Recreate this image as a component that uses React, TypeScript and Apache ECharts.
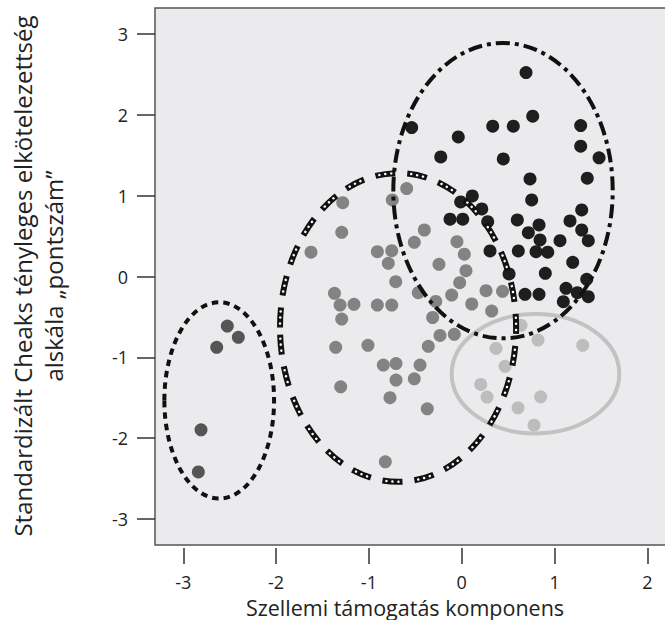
import React, { useEffect, useRef } from "react";
import * as echarts from "echarts";

// Cluster 1: black points (upper right)
const blackPoints: number[][] = [
  [0.693, 2.522], [0.765, 1.983], [-0.539, 1.842], [0.334, 1.859], [0.556, 1.859],
  [1.282, 1.866], [-0.037, 1.726], [1.282, 1.611], [-0.226, 1.479], [0.448, 1.454],
  [1.48, 1.467], [0.736, 1.207], [1.353, 1.215], [0.754, 0.947], [0.114, 0.996],
  [-0.011, 0.922], [0.216, 0.835], [1.293, 0.823], [-0.126, 0.708], [0.011, 0.708],
  [0.28, 0.678], [0.599, 0.699], [0.833, 0.637], [1.167, 0.687], [0.718, 0.542],
  [1.293, 0.575], [0.844, 0.452], [1.059, 0.443], [1.364, 0.443], [0.305, 0.316],
  [0.61, 0.316], [0.801, 0.307], [0.927, 0.3], [1.196, 0.176], [0.51, 0.031],
  [0.901, 0.04], [1.347, -0.035], [1.124, -0.146], [1.246, -0.2], [1.364, -0.25],
  [1.095, -0.312], [0.682, -0.22], [0.833, -0.22]
];

// Cluster 2: medium gray points (middle)
const grayPoints: number[][] = [
  [-1.282, 0.913], [-0.748, 0.947], [-0.593, 1.087], [-1.293, 0.547], [-1.624, 0.3],
  [-0.909, 0.307], [-0.754, 0.319], [-0.791, 0.163], [-0.403, 0.575], [-0.511, 0.423],
  [-0.051, 0.431], [0.028, 0.276], [-0.245, 0.151], [0.046, 0.072], [-0.711, -0.064],
  [-0.022, -0.077], [0.262, -0.176], [0.44, -0.183], [-0.468, -0.2], [-0.108, -0.229],
  [-0.28, -0.309], [0.108, -0.34], [0.323, -0.427], [-0.313, -0.507], [-1.371, -0.208],
  [-1.311, -0.353], [-1.161, -0.344], [-0.909, -0.353], [-0.754, -0.353], [-1.293, -0.526],
  [-1.358, -0.876], [-1.01, -0.851], [-0.234, -0.728], [-0.08, -0.715], [-0.36, -0.864],
  [-0.845, -1.095], [-0.708, -1.077], [-0.449, -1.095], [-0.708, -1.281], [-0.511, -1.265],
  [-1.304, -1.364], [-0.773, -1.498], [-0.371, -1.636], [-0.823, -2.292]
];

// Cluster 3: light gray points (lower right)
const lightPoints: number[][] = [
  [0.639, -0.604], [0.822, -0.786], [1.304, -0.851], [0.37, -0.889], [0.467, -1.111],
  [0.205, -1.334], [0.273, -1.491], [0.851, -1.488], [0.607, -1.624], [0.779, -1.838]
];

// Cluster 4: dark gray points (left)
const darkPoints: number[][] = [
  [-2.526, -0.613], [-2.407, -0.752], [-2.64, -0.876], [-2.809, -1.896], [-2.838, -2.416]
];

// Ellipses: [centerX, centerY, radiusX, radiusY]
const ellipseBlack = [[0.445, 1.061, 1.182, 1.826]];
const ellipseMid = [[-0.686, -0.63, 1.272, 1.908]];
const ellipseLeft = [[-2.613, -1.532, 0.591, 1.213]];
const ellipseLight = [[0.795, -1.203, 0.903, 0.738]];

const xTicks = [-3, -2, -1, 0, 1, 2];
const yTicks = [-3, -2, -1, 0, 1, 2, 3];

const xName = "Szellemi támogatás komponens";
const yName1 = "Standardizált Cheaks tényleges elkötelezettség";
const yName2 = "alskála „pontszám”";

const FONT = "'Open Sans', 'Noto Sans', sans-serif";

function ellipseSeries(data: number[][], layers: any[], z: number) {
  return {
    type: "custom",
    data,
    z,
    silent: true,
    clip: false,
    renderItem: (_p: any, api: any) => {
      const c = api.coord([api.value(0), api.value(1)]);
      const s = api.size([api.value(2), api.value(3)]);
      return {
        type: "group",
        children: layers.map((st) => ({
          type: "ellipse",
          shape: { cx: c[0], cy: c[1], rx: s[0], ry: s[1] },
          style: { fill: "none", ...st },
        })),
      };
    },
  };
}

export default function App() {
  const ref = useRef<HTMLDivElement>(null);
  useEffect(() => {
    document.body.style.margin = "0";
    document.body.style.overflow = "hidden";
    document.documentElement.style.overflow = "hidden";
    const chart = echarts.init(ref.current!, null, { renderer: "svg" });
    const scatter = (data: number[][], color: string) => ({
      type: "scatter",
      data,
      symbolSize: 13,
      z: 2,
      itemStyle: { color, opacity: 1 },
      silent: true,
    });
    chart.setOption({
      animation: false,
      textStyle: { fontFamily: FONT },
      grid: {
        left: 155,
        top: 8,
        right: 0,
        bottom: 75,
        show: true,
        backgroundColor: "#ebebed",
        borderColor: "#555555",
        borderWidth: 1.5,
      },
      xAxis: {
        type: "value",
        min: -3.305,
        max: 2.406,
        offset: 3,
        axisLine: { show: false, onZero: false },
        splitLine: { show: false },
        axisTick: {
          show: true,
          length: 16,
          customValues: xTicks,
          lineStyle: { color: "#333", width: 1.5 },
        },
        axisLabel: {
          customValues: xTicks,
          margin: 25,
          fontSize: 18,
          color: "#222",
          fontFamily: FONT,
        },
      },
      yAxis: {
        type: "value",
        min: -3.32,
        max: 3.32,
        axisLine: { show: false, onZero: false },
        splitLine: { show: false },
        axisTick: {
          show: true,
          length: 18,
          customValues: yTicks,
          lineStyle: { color: "#333", width: 1.5 },
        },
        axisLabel: {
          customValues: yTicks,
          margin: 27,
          fontSize: 18,
          color: "#222",
          fontFamily: FONT,
        },
      },
      graphic: [
        {
          type: "text",
          x: 405,
          y: 607,
          style: {
            text: xName,
            fontSize: 21.5,
            fontFamily: FONT,
            fill: "#222",
            align: "center",
            verticalAlign: "middle",
          },
        },
        {
          type: "text",
          x: 22,
          y: 276,
          rotation: Math.PI / 2,
          style: {
            text: yName1,
            fontSize: 24,
            fontFamily: FONT,
            fill: "#222",
            align: "center",
            verticalAlign: "middle",
          },
        },
        {
          type: "text",
          x: 53,
          y: 276,
          rotation: Math.PI / 2,
          style: {
            text: yName2,
            fontSize: 24,
            fontFamily: FONT,
            fill: "#222",
            align: "center",
            verticalAlign: "middle",
          },
        },
      ],
      series: [
        scatter(grayPoints, "#838383"),
        scatter(lightPoints, "#bdbdbd"),
        scatter(darkPoints, "#555555"),
        scatter(blackPoints, "#1e1e1e"),
        ellipseSeries(ellipseLight, [{ stroke: "#c2c2c2", lineWidth: 4 }], 5),
        ellipseSeries(ellipseBlack, [
          { stroke: "#111", lineWidth: 4, lineDash: [14, 5, 4, 5] },
        ], 6),
        ellipseSeries(ellipseLeft, [
          { stroke: "#111", lineWidth: 4, lineDash: [6.5, 5] },
        ], 6),
        ellipseSeries(ellipseMid, [
          { stroke: "#111", lineWidth: 6, lineDash: [20, 12] },
          {
            stroke: "#ffffff",
            lineWidth: 2.5,
            lineCap: "round",
            lineDash: [0.01, 6, 0.01, 6, 0.01, 19.97],
            lineDashOffset: 28,
          },
        ], 7),
      ],
    });
    return () => chart.dispose();
  }, []);
  return (
    <div
      ref={ref}
      style={{ position: "absolute", left: 0, top: 0, width: 685, height: 620 }}
    />
  );
}
